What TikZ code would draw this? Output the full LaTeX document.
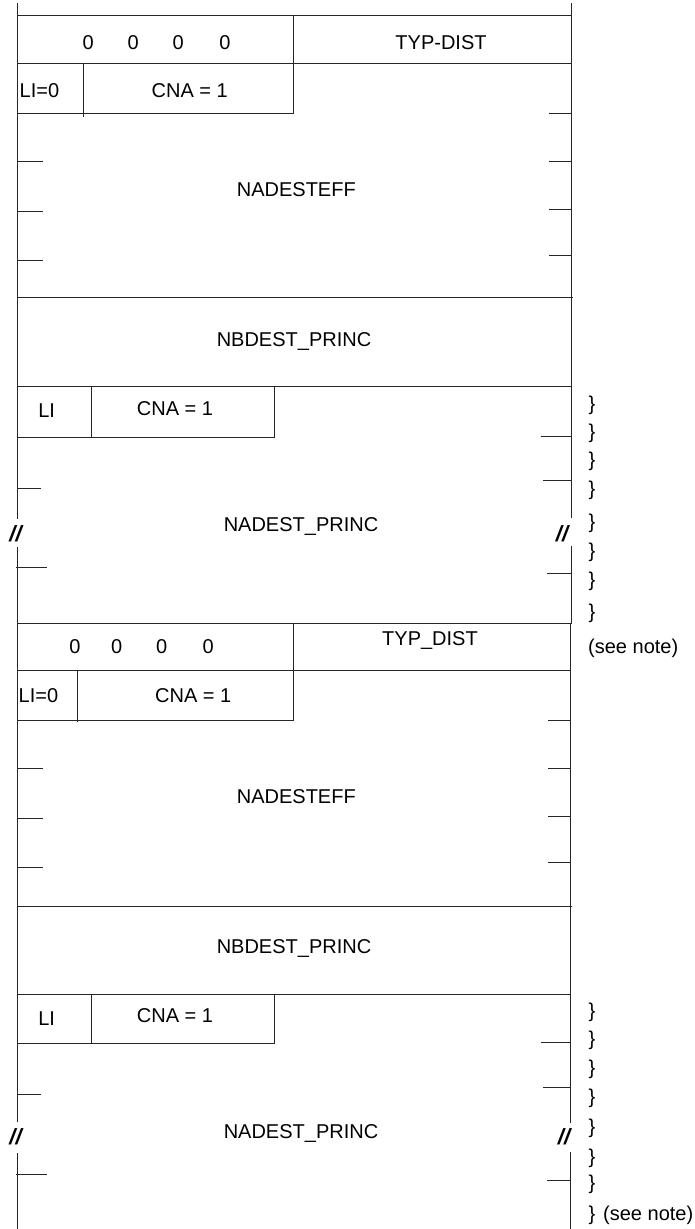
\documentclass[tikz,border=0pt]{standalone}
\usepackage{fontspec}
\setmainfont{Liberation Sans}
\begin{document}
\begin{tikzpicture}[x=1pt,y=-1pt,
  ln/.style={draw=black!85,line width=0.9pt},
  txt/.style={font=\fontsize{20}{24}\selectfont,inner sep=0pt,text height=14.3pt,text depth=0pt},
  brc/.style={txt},
  brk/.style={font=\fontsize{22}{26}\selectfont\bfseries\itshape,inner sep=0pt}]
\useasboundingbox (0,0) rectangle (694,1229);
% outer vertical lines
\draw[ln] (17.5,3) -- (17.5,519) (17.5,547) -- (17.5,1122) (17.5,1153) -- (17.5,1229);
\draw[ln] (571,3) -- (571,518) (571,546) -- (571,623.5);
\draw[ln] (570,623.5) -- (570,1123) (570,1152) -- (570,1229);
% full-width horizontal lines
\draw[ln] (17.5,15) -- (572,15);
\draw[ln] (17.5,63.3) -- (572,63.3);
\draw[ln] (17.5,297) -- (573,297);
\draw[ln] (17.5,386) -- (572,386);
\draw[ln] (17.5,623.5) -- (571,623.5);
\draw[ln] (17.5,670) -- (570,670);
\draw[ln] (17.5,906) -- (572,906);
\draw[ln] (17.5,994) -- (571,994);
% block 1 inner boxes
\draw[ln] (293,15) -- (293,113.3) -- (17.5,113.3);
\draw[ln] (83.3,63.3) -- (83.3,116.7);
\draw[ln] (91,386) -- (91,437.7);
\draw[ln] (274.7,386) -- (274.7,437.7) -- (17.5,437.7);
% block 2 inner boxes
\draw[ln] (293,623.5) -- (293,720) -- (17.5,720);
\draw[ln] (77.3,670) -- (77.3,722);
\draw[ln] (91,994) -- (91,1043.3);
\draw[ln] (274.7,994) -- (274.7,1043.3) -- (17.5,1043.3);
% ticks block 1
\foreach \y in {161.7,211.7,260.7} \draw[ln] (17.5,\y) -- (43,\y);
\foreach \y in {113.3,161,209,255.3} \draw[ln] (549,\y) -- (571,\y);
\draw[ln] (17.5,488.3) -- (41,488.3);
\draw[ln] (16,567.5) -- (46.7,567.5);
\draw[ln] (540.7,436.7) -- (571,436.7);
\draw[ln] (543.3,480) -- (571,480);
\draw[ln] (547.3,573.3) -- (571,573.3);
% ticks block 2
\foreach \y in {768.7,818.7,867.7} \draw[ln] (17.5,\y) -- (43,\y);
\foreach \y in {720.3,768,816,862.3} \draw[ln] (548,\y) -- (570,\y);
\draw[ln] (17.5,1094) -- (41,1094);
\draw[ln] (16,1174) -- (46.7,1174);
\draw[ln] (540.7,1042.7) -- (570,1042.7);
\draw[ln] (543,1087.3) -- (570,1087.3);
\draw[ln] (547,1180.7) -- (570,1180.7);
% texts block 1
\node[txt] (z1a) at (88.3,42.5) {0};
\node[txt] (z1b) at (133.3,42.5) {0};
\node[txt] (z1c) at (178.3,42.5) {0};
\node[txt] (z1d) at (225,42.5) {0};
\node[txt] (typ1) at (441,42.5) {TYP-DIST};
\node[txt,anchor=west] (li01) at (19.5,90) {LI=0};
\node[txt] (cna1) at (189.7,90) {CNA = 1};
\node[txt] (eff1) at (296.3,189.3) {NADESTEFF};
\node[txt] (nb1) at (294,339.3) {NBDEST\_PRINC};
\node[txt] (li1) at (46.7,410) {LI};
\node[txt] (cnb1) at (175,408) {CNA = 1};
\node[txt] (pr1) at (301,524.3) {NADEST\_PRINC};
\node[brk] (sl1) at (15.6,533.3) {//};
\node[brk] (sr1) at (562,533.3) {//};
\foreach \y [count=\i] in {401.7,429.3,457.3,486,519.3,548.3,577.3,609.3}
  \node[brc] (b1\i) at (592,\y+2) {\}};
\node[txt,anchor=west] (note1) at (588,646.7) {(see note)};
% texts block 2
\node[txt] (z2a) at (75,646.7) {0};
\node[txt] (z2b) at (116.7,646.7) {0};
\node[txt] (z2c) at (161.7,646.7) {0};
\node[txt] (z2d) at (208.3,646.7) {0};
\node[txt] (typ2) at (430,638) {TYP\_DIST};
\node[txt,anchor=west] (li02) at (18.5,695) {LI=0};
\node[txt] (cna2) at (193.3,695) {CNA = 1};
\node[txt] (eff2) at (296.3,796.3) {NADESTEFF};
\node[txt] (nb2) at (294,946.3) {NBDEST\_PRINC};
\node[txt] (li2) at (46.7,1018.3) {LI};
\node[txt] (cnb2) at (175,1015) {CNA = 1};
\node[txt] (pr2) at (301,1131.7) {NADEST\_PRINC};
\node[brk] (sl2) at (15.6,1137) {//};
\node[brk] (sr2) at (564,1137) {//};
\foreach \y [count=\i] in {1008.3,1036.7,1065,1094,1124,1154,1180.7,1211.7}
  \node[brc] (b2\i) at (592,\y+2) {\}};
\node[txt,anchor=west] (note2) at (603,1213.7) {(see note)};
\end{tikzpicture}
\end{document}
